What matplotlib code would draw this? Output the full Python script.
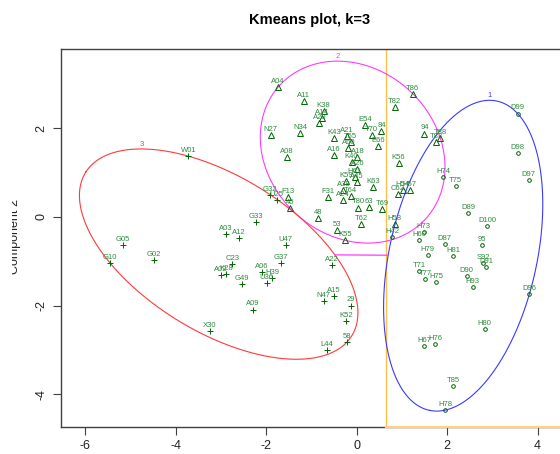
import numpy as np
import matplotlib
matplotlib.use("Agg")
import matplotlib.pyplot as plt

plt.rcParams['font.family'] = ['Liberation Sans', 'DejaVu Sans']
plt.rcParams['axes.unicode_minus'] = False

# Cluster 1 (circles)
c1_names = ["D99", "D98", "D97", "H74", "T75", "D89", "D100", "H73", "H60", "D87",
            "95", "H79", "H81", "T71", "T77", "H75", "S92", "D91", "D90", "H93",
            "D96", "H80", "H67", "H76", "T85", "H78", "H42"]
c1_x = [3.56, 3.56, 3.80, 1.91, 2.19, 2.46, 2.88, 1.48, 1.39, 1.95,
        2.77, 1.57, 2.13, 1.38, 1.52, 1.76, 2.80, 2.86, 2.43, 2.57,
        3.82, 2.83, 1.49, 1.74, 2.13, 1.96, 0.78]
c1_y = [2.33, 1.43, 0.84, 0.89, 0.70, 0.08, -0.20, -0.35, -0.53, -0.62,
        -0.64, -0.86, -0.88, -1.22, -1.41, -1.48, -1.04, -1.13, -1.34, -1.58,
        -1.74, -2.52, -2.92, -2.86, -3.81, -4.36, -0.45]

# Cluster 2 (triangles)
c2_names = ["A04", "A11", "K38", "A14", "A20", "N27", "N34", "A08", "E54", "T70",
            "84", "E66", "K43", "A21", "T55", "A60", "A16", "A18", "K40", "A26",
            "K59", "H61", "A45", "A38", "T64", "A24", "F31", "K63", "T80", "63",
            "T69", "F13", "40", "48", "53", "T62", "K55", "K56", "H58", "C62",
            "H54", "H57", "T86", "T82", "94", "T88", "T83"]
c2_x = [-1.74, -1.17, -0.73, -0.77, -0.82, -1.90, -1.24, -1.54, 0.19, 0.33,
        0.55, 0.47, -0.49, -0.22, -0.13, -0.18, -0.51, 0.02, -0.11, 0.02,
        -0.24, -0.04, 0.00, -0.29, -0.13, -0.31, -0.63, 0.36, 0.03, 0.28,
        0.56, -1.51, -1.47, -0.85, -0.43, 0.10, -0.25, 0.93, 0.84, 0.91,
        1.02, 1.17, 1.24, 0.84, 1.50, 1.85, 1.76]
c2_y = [2.92, 2.62, 2.38, 2.23, 2.12, 1.84, 1.89, 1.34, 2.07, 1.84,
        1.93, 1.59, 1.78, 1.82, 1.68, 1.55, 1.39, 1.35, 1.23, 1.08,
        0.81, 0.90, 0.78, 0.60, 0.47, 0.38, 0.44, 0.67, 0.21, 0.22,
        0.18, 0.44, 0.20, -0.02, -0.30, -0.16, -0.53, 1.22, -0.16, 0.51,
        0.60, 0.60, 2.78, 2.48, 1.88, 1.78, 1.69]

# Cluster 3 (plus)
c3_names = ["W01", "G05", "G10", "G02", "A03", "A12", "G33", "G32", "U25", "U47",
            "C23", "A02", "K28", "G37", "A06", "H39", "U36", "G49", "A09", "X30",
            "A22", "A15", "N47", "29", "K52", "58", "L44"]
c3_x = [-3.72, -5.17, -5.45, -4.48, -2.89, -2.60, -2.22, -1.91, -1.77, -1.57,
        -2.75, -3.00, -2.89, -1.68, -2.09, -1.87, -1.99, -2.54, -2.30, -3.25,
        -0.55, -0.51, -0.73, -0.12, -0.24, -0.21, -0.65]
c3_y = [1.37, -0.64, -1.04, -0.97, -0.39, -0.47, -0.12, 0.50, 0.38, -0.64,
        -1.07, -1.32, -1.29, -1.05, -1.24, -1.39, -1.50, -1.52, -2.09, -2.57,
        -1.09, -1.78, -1.90, -2.00, -2.35, -2.82, -3.01]

cut_x = 0.66   # vertical orange line

def mvee(P, tol=1e-5, max_iter=4000):
    # minimum volume ellipse around the points (Khachiyan)
    N, d = P.shape
    Q = np.vstack([P.T, np.ones(N)])
    u = np.ones(N) / N
    for _ in range(max_iter):
        X = (Q * u) @ Q.T
        M = np.einsum('ij,ji->i', Q.T @ np.linalg.inv(X), Q)
        j = np.argmax(M)
        step = (M[j] - d - 1) / ((d + 1) * (M[j] - 1))
        new_u = (1 - step) * u
        new_u[j] += step
        err = np.linalg.norm(new_u - u)
        u = new_u
        if err < tol:
            break
    c = P.T @ u
    A = np.linalg.inv((P.T * u) @ P - np.outer(c, c)) / d
    # make sure every point is inside
    r = np.einsum('ij,jk,ik->i', P - c, A, P - c).max()
    return c, A / r

def ellipse_curve(c, A, n=400):
    vals, vecs = np.linalg.eigh(A)
    t = np.linspace(0, 2 * np.pi, n)
    circ = np.vstack([np.cos(t), np.sin(t)]) / np.sqrt(vals)[:, None]
    return c[:, None] + vecs @ circ

fig = plt.figure(figsize=(5.6, 4.54), dpi=100)
ax = fig.add_axes([60.7 / 560, 1 - 427 / 454, (562 - 60.7) / 560, (427 - 49.3) / 454])

clusters = [
    (c1_names, c1_x, c1_y, 'o', 2.6, '#3a3aff', "1"),
    (c2_names, c2_x, c2_y, '^', 4.0, '#ff3aff', "2"),
    (c3_names, c3_x, c3_y, '+', 5.0, '#ff3a3a', "3"),
]

ell = []
for names, xs, ys, mk, ms, col, lab in clusters:
    P = np.column_stack([xs, ys])
    c, A = mvee(P)
    ell.append((c, A))
    E = ellipse_curve(c, A)
    ax.plot(E[0], E[1], color=col, lw=0.8, zorder=2)
    top = np.argmax(E[1])
    ax.text(E[0][top], E[1][top] + 0.03, lab, color=col, fontsize=5.5,
            ha='center', va='bottom', zorder=4)
    ax.plot(xs, ys, linestyle='none', marker=mk, markersize=ms, fillstyle='none',
            markeredgewidth=0.7, color='#006400', zorder=3)
    for n, x, y in zip(names, xs, ys):
        ax.annotate(n, (x, y), xytext=(0, 1.5), textcoords='offset points',
                    ha='center', va='bottom', fontsize=5.5, color='#2e8b3e', zorder=4)

# segment joining the two ellipses that do not touch (3 -> 1)
(c_b, A_b), (c_r, A_r) = ell[0], ell[2]
d = c_b - c_r
t_r = 1 / np.sqrt(d @ A_r @ d)
t_b = 1 - 1 / np.sqrt(d @ A_b @ d)
p0 = c_r + t_r * d
p1 = c_r + t_b * d
ax.plot([p0[0], p1[0]], [p0[1], p1[1]], color='#ff3aff', lw=0.9, zorder=2)

ax.axvline(cut_x, color='#ffc04a', lw=1.0, zorder=1)

ax.set_xlim(-6.54, 4.54)
ax.set_ylim(-4.74, 3.78)
ax.plot([cut_x, 4.54], [-4.74, -4.74], color='#ffd080', lw=1.6, zorder=5, clip_on=False)

ax.set_xticks([-6, -4, -2, 0, 2, 4])
ax.set_yticks([-4, -2, 0, 2])
ax.tick_params(direction='out', length=5.5, width=0.8, color='#404040',
               labelsize=9, labelcolor='#222222', pad=4)
for lbl in ax.get_yticklabels():
    lbl.set_rotation(90)
    lbl.set_va('center')
for s in ['left', 'bottom', 'top', 'right']:
    ax.spines[s].set_color('#404040')
    ax.spines[s].set_linewidth(1.0)

fig.text(310 / 560, 1 - 20 / 454, "Kmeans plot, k=3", ha='center', va='center',
         fontsize=10.5, fontweight='bold')
fig.text(15.5 / 560, 1 - 236 / 454, "Component 2", rotation=90, ha='center',
         va='center', fontsize=9, color='#222222')
# left strip of the label is cut off in the reference
fig.patches.append(plt.Rectangle((0, 0), 11.5 / 560, 1, transform=fig.transFigure,
                                 facecolor='white', edgecolor='none', zorder=10))

fig.savefig("out.png", dpi=100)
